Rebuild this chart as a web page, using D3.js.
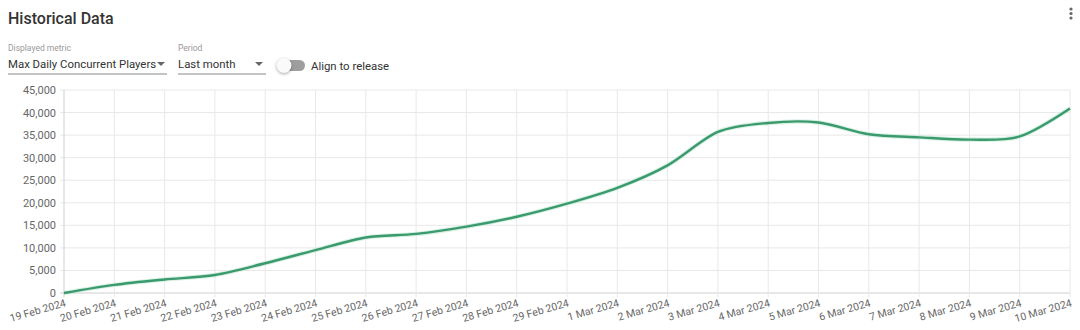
<!DOCTYPE html>
<html>
<head>
<meta charset="utf-8">
<script src="https://cdn.jsdelivr.net/npm/d3@7"></script>
<style>
  html, body { margin: 0; padding: 0; background: #fff; }
  body { width: 1080px; height: 330px; overflow: hidden; font-family: Roboto, "Noto Sans", sans-serif; }
  svg { display: block; }
</style>
</head>
<body>
<svg id="chart" width="1080" height="330"></svg>
<script>
// data
const dates = [
  "19 Feb 2024", "20 Feb 2024", "21 Feb 2024", "22 Feb 2024", "23 Feb 2024",
  "24 Feb 2024", "25 Feb 2024", "26 Feb 2024", "27 Feb 2024", "28 Feb 2024",
  "29 Feb 2024", "1 Mar 2024", "2 Mar 2024", "3 Mar 2024", "4 Mar 2024",
  "5 Mar 2024", "6 Mar 2024", "7 Mar 2024", "8 Mar 2024", "9 Mar 2024",
  "10 Mar 2024"
];
const players = [
  0, 1800, 3000, 4000, 6600,
  9500, 12300, 13100, 14700, 16900,
  19800, 23300, 28300, 35700, 37700,
  37800, 35200, 34500, 34000, 34700,
  40900
];
const yTicks = [0, 5000, 10000, 15000, 20000, 25000, 30000, 35000, 40000, 45000];

const margins = { left: 64, right: 10, top: 90, bottom: 37 };
const colours = { line: "#3b9a6d", grid: "#e8e8e8", axis: "#cfcfcf", text: "#666" };

const svg = d3.select("#chart");
const width = 1080 - margins.left - margins.right;
const height = 330 - margins.top - margins.bottom;

// ---- header controls ----
const header = svg.append("g").attr("class", "header");
header.append("text").attr("x", 8).attr("y", 24)
  .style("font-size", "16px").style("font-weight", 500).style("fill", "#333")
  .text("Historical Data");

// kebab menu
header.selectAll("circle.kebab").data([0, 1, 2]).join("circle")
  .attr("class", "kebab")
  .attr("cx", 1071).attr("cy", (d) => 9 + d * 4.5).attr("r", 1.6)
  .style("fill", "#666");

const selects = [
  { label: "Displayed metric", value: "Max Daily Concurrent Players", x: 8, w: 159, arrow: 161 },
  { label: "Period", value: "Last month", x: 178, w: 88, arrow: 259 },
];
selects.forEach((s) => {
  const g = header.append("g");
  g.append("text").attr("x", s.x).attr("y", 51)
    .style("font-size", "8.5px").style("fill", "#999").text(s.label);
  g.append("text").attr("x", s.x).attr("y", 68)
    .style("font-size", "11.4px").style("fill", "#333").text(s.value);
  g.append("path")
    .attr("d", `M${s.arrow - 4},62 L${s.arrow + 4},62 L${s.arrow},66 Z`)
    .style("fill", "#666");
  g.append("line").attr("x1", s.x).attr("x2", s.x + s.w).attr("y1", 74).attr("y2", 74)
    .style("stroke", "#888").style("stroke-width", 1);
});

// toggle
header.append("rect").attr("x", 279).attr("y", 60).attr("width", 26).attr("height", 11).attr("rx", 5.5)
  .style("fill", "#9e9e9e");
header.append("circle").attr("cx", 284).attr("cy", 65.5).attr("r", 7.5)
  .style("fill", "#fafafa").style("filter", "drop-shadow(0 1px 1.5px rgba(0,0,0,0.35))");
header.append("text").attr("x", 311).attr("y", 70)
  .style("font-size", "11.4px").style("fill", "#333").text("Align to release");

// ---- chart ----
const main = svg.append("g").attr("transform", `translate(${margins.left},${margins.top})`);

const x = d3.scalePoint().domain(dates).range([0, width]);
const y = d3.scaleLinear().domain([0, 45000]).range([height, 0]);

// grid
main.append("g").attr("class", "y-grid")
  .selectAll("line").data(yTicks).join("line")
  .attr("x1", -4).attr("x2", width)
  .attr("y1", (d) => y(d)).attr("y2", (d) => y(d))
  .style("stroke", (d) => (d === 0 ? colours.axis : colours.grid));

main.append("g").attr("class", "x-grid")
  .selectAll("line").data(dates).join("line")
  .attr("x1", (d) => x(d)).attr("x2", (d) => x(d))
  .attr("y1", 0).attr("y2", height + 4)
  .style("stroke", (d, i) => (i === 0 ? colours.axis : colours.grid));

// y axis labels
const yAxis = d3.axisLeft(y).tickValues(yTicks).tickSize(0).tickPadding(8)
  .tickFormat(d3.format(","));
main.append("g").attr("class", "y-axis").call(yAxis)
  .call((g) => g.select(".domain").remove())
  .selectAll("text")
  .style("font-family", "Roboto, sans-serif").style("font-size", "11px").style("fill", colours.text);

// x axis labels
const xAxis = d3.axisBottom(x).tickSize(0);
main.append("g").attr("class", "x-axis").attr("transform", `translate(0,${height})`)
  .call(xAxis)
  .call((g) => g.select(".domain").remove())
  .selectAll("text")
  .style("font-family", "Roboto, sans-serif").style("font-size", "10.5px").style("fill", colours.text)
  .style("text-anchor", "end")
  .attr("dy", null).attr("y", 0)
  .attr("transform", "translate(2,13) rotate(-16)");

// the line
const line = d3.line()
  .x((d, i) => x(dates[i]))
  .y((d) => y(d))
  .curve(d3.curveCardinal.tension(0.1));

main.append("path").datum(players)
  .attr("d", line)
  .style("fill", "none")
  .style("stroke", "#bfe8d3")
  .style("stroke-width", 4.5)
  .style("opacity", 0.6);

main.append("path").datum(players)
  .attr("d", line)
  .style("fill", "none")
  .style("stroke", colours.line)
  .style("stroke-width", 2.4);
</script>
</body>
</html>
